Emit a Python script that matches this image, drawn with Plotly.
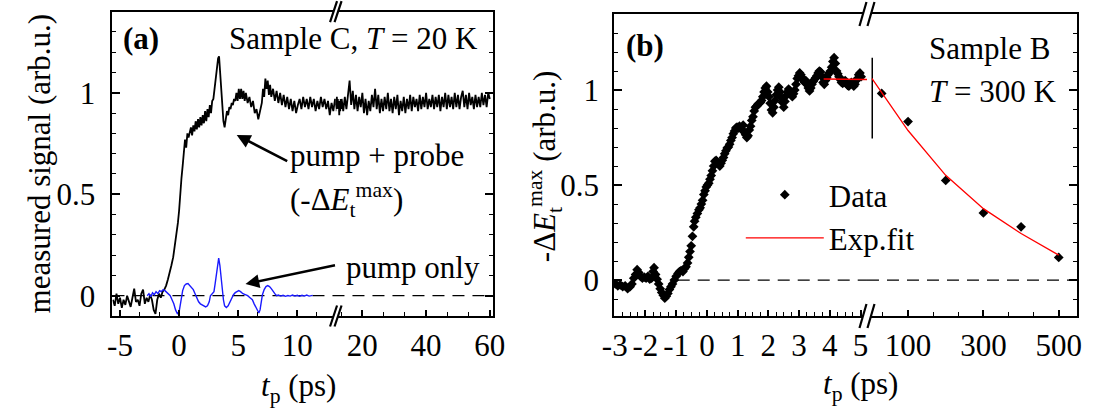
import plotly.graph_objects as go

W, H = 1103, 408
FONT = "Liberation Serif, Times New Roman, serif"
FS = 31

# ---------------- data: panel (a) ----------------
a_probe_t = [
    -5.6, -5.45, -5.3, -5.15, -5.0, -4.85, -4.7, -4.55, -4.4, -4.25,
    -4.1, -3.95, -3.8, -3.65, -3.5, -3.35, -3.2, -3.05, -2.9, -2.75,
    -2.6, -2.45, -2.3, -2.15, -2.0, -1.85, -1.7, -1.55, -1.4, -1.25,
    -1.1, -0.95, -0.8, -0.65, -0.5, -0.4, -0.3, -0.2, -0.1, 0.0,
    0.05, 0.1, 0.15, 0.2, 0.3, 0.4, 0.5, 0.6, 0.7, 0.8,
    0.9, 1.0, 1.1, 1.2, 1.3, 1.4, 1.5, 1.6, 1.7, 1.8,
    1.9, 2.0, 2.1, 2.2, 2.3, 2.4, 2.5, 2.6, 2.7, 2.8,
    2.9, 3.0, 3.1, 3.2, 3.3, 3.38, 3.45, 3.55, 3.65, 3.75,
    3.85, 3.95, 4.05, 4.15, 4.25, 4.35, 4.45, 4.55, 4.65, 4.75,
    4.85, 4.95, 5.05, 5.15, 5.25, 5.35, 5.45, 5.55, 5.65, 5.8,
    5.95, 6.1, 6.25, 6.4, 6.55, 6.7, 6.85, 7.0, 7.1, 7.2,
    7.3, 7.4, 7.5, 7.6, 7.7, 7.8, 7.95, 8.1, 8.25, 8.4,
    8.55, 8.7, 8.85, 9.0, 9.15, 9.3, 9.45, 9.6, 9.75, 9.9,
    10.05, 10.2, 10.35, 10.5, 10.65, 10.8, 10.95, 11.1, 11.25, 11.4,
    11.55, 11.7, 11.85, 12.0, 12.15, 12.3, 12.45, 12.6, 12.75, 12.9,
    13.05, 13.2, 13.35, 13.5, 14.0, 14.5, 15.0, 15.5, 16.0, 16.5,
    17.0, 17.5, 18.0, 18.5, 19.0, 19.5, 20.0, 20.5, 21.0, 21.5,
    22.0, 22.5, 23.0, 23.5, 24.0, 24.5, 25.0, 25.5, 26.0, 26.5,
    27.0, 27.5, 28.0, 28.5, 29.0, 29.5, 30.0, 30.5, 31.0, 31.5,
    32.0, 32.5, 33.0, 33.5, 34.0, 34.5, 35.0, 35.5, 36.0, 36.5,
    37.0, 37.5, 38.0, 38.5, 39.0, 39.5, 40.0, 40.5, 41.0, 41.5,
    42.0, 42.5, 43.0, 43.5, 44.0, 44.5, 45.0, 45.5, 46.0, 46.5,
    47.0, 47.5, 48.0, 48.5, 49.0, 49.5, 50.0, 50.5, 51.0, 51.5,
    52.0, 52.5, 53.0, 53.5, 54.0, 54.5, 55.0, 55.5, 56.0, 56.5,
    57.0, 57.5, 58.0, 58.5, 59.0, 59.5, 60.0,
]
a_probe_y = [
    -0.02, -0.05, 0.01, -0.04, -0.01, -0.06, -0.02, -0.045, 0.0, -0.03,
    -0.055, -0.01, 0.035, -0.03, -0.02, -0.05, 0.01, 0.03, -0.04, -0.01,
    -0.03, 0.005, -0.02, -0.07, -0.09, -0.02, 0.01, -0.01, 0.02, 0.03,
    0.05, 0.08, 0.11, 0.15, 0.19, 0.23, 0.27, 0.31, 0.36, 0.42,
    0.47, 0.52, 0.55, 0.58, 0.64, 0.71, 0.77, 0.73, 0.8, 0.78,
    0.8, 0.83, 0.79, 0.84, 0.81, 0.86, 0.82, 0.87, 0.83, 0.88,
    0.84, 0.89, 0.85, 0.91, 0.86, 0.92, 0.88, 0.94, 0.9, 0.96,
    0.97, 1.02, 1.08, 1.13, 1.17, 1.18, 1.12, 1.05, 0.95, 0.86,
    0.83, 0.88, 0.91, 0.89, 0.93, 0.92, 0.95, 0.94, 0.97, 0.96,
    1.0, 0.96, 1.02, 0.97, 1.02, 0.97, 1.01, 0.96, 1.0, 0.95,
    0.98, 0.93, 0.96, 0.9, 0.92, 0.87, 0.92, 0.95, 1.02, 0.98,
    1.07, 1.02, 1.06, 0.99, 1.04, 0.98, 1.02, 0.96, 1.01, 0.95,
    1.0, 0.94, 0.99, 0.93, 0.98, 0.92, 0.97, 0.91, 0.96, 0.9,
    0.94, 0.97, 0.92, 0.98, 0.93, 0.97, 0.92, 0.98, 0.93, 0.97,
    0.91, 0.96, 0.92, 0.98, 0.93, 0.97, 0.92, 0.96, 0.89, 0.95,
    0.91, 0.97, 0.92, 0.97, 0.91, 0.98, 0.92, 1.0, 1.06, 0.94,
    1.01, 0.92, 0.99, 0.91, 0.98, 0.93, 1.0, 0.9, 0.97, 0.89,
    0.96, 0.91, 0.99, 0.93, 1.02, 0.92, 0.99, 0.9, 0.97, 0.91,
    0.98, 0.92, 1.0, 0.91, 0.97, 0.9, 0.98, 0.92, 0.99, 0.89,
    0.96, 0.91, 0.98, 0.9, 0.97, 0.92, 0.99, 0.91, 0.98, 0.93,
    0.97, 0.91, 0.99, 0.92, 0.98, 0.93, 1.0, 0.92, 0.97, 0.93,
    0.99, 0.92, 0.98, 0.93, 0.99, 0.91, 0.98, 0.93, 1.0, 0.92,
    0.99, 0.93, 0.98, 0.92, 1.0, 0.93, 0.99, 0.92, 0.98, 1.01,
    0.93, 0.99, 0.92, 1.0, 0.94, 0.98, 0.92, 0.99, 0.93, 0.98,
    0.93, 1.0, 0.94, 0.99, 0.93, 1.0, 0.97,
]
a_pump_t = [
    -2.7, -2.55, -2.4, -2.25, -2.1, -1.95, -1.8, -1.65, -1.5, -1.35,
    -1.2, -1.05, -0.9, -0.75, -0.6, -0.45, -0.3, -0.15, 0.0, 0.1,
    0.2, 0.3, 0.45, 0.6, 0.75, 0.9, 1.05, 1.2, 1.35, 1.5,
    1.65, 1.8, 1.95, 2.1, 2.25, 2.4, 2.55, 2.65, 2.8, 2.95,
    3.05, 3.15, 3.25, 3.35, 3.45, 3.55, 3.65, 3.75, 3.85, 4.0,
    4.15, 4.3, 4.45, 4.6, 4.75, 4.9, 5.05, 5.2, 5.4, 5.6,
    5.8, 6.0, 6.2, 6.35, 6.5, 6.65, 6.75, 6.85, 6.95, 7.05,
    7.2, 7.35, 7.5, 7.65, 7.8, 7.95, 8.1, 8.25, 8.4, 8.6,
    8.8, 9.0, 9.2, 9.4, 9.6, 9.8, 10.0, 10.2, 10.4, 10.6,
    10.8, 11.0, 11.3,
]
a_pump_y = [
    0.0, 0.01, -0.005, 0.015, 0.005, 0.02, 0.01, 0.025, 0.02, 0.03,
    0.025, 0.015, 0.01, 0.0, -0.02, -0.04, -0.07, -0.088, -0.08, -0.05,
    -0.01, 0.025, 0.05, 0.058, 0.06, 0.05, 0.045, 0.03, 0.01, -0.01,
    -0.03, -0.04, -0.045, -0.05, -0.055, -0.05, -0.03, 0.0, 0.01, 0.02,
    0.06, 0.11, 0.16, 0.185, 0.15, 0.09, 0.03, -0.02, -0.05, -0.058,
    -0.05, -0.03, -0.01, 0.005, 0.015, 0.02, 0.025, 0.02, 0.01, 0.005,
    0.0, -0.01, -0.02, -0.04, -0.06, -0.08, -0.085, -0.07, -0.03, 0.005,
    0.03, 0.045, 0.05, 0.045, 0.035, 0.02, 0.01, 0.0, 0.003, -0.002,
    0.002, -0.003, 0.001, -0.002, 0.003, -0.002, 0.002, -0.003, 0.002, -0.002,
    0.003, -0.002, 0.002,
]

# ---------------- data: panel (b) ----------------
b_fast_t = [
    -2.98, -2.9, -2.82, -2.74, -2.66, -2.58, -2.5, -2.44, -2.38, -2.32,
    -2.27, -2.22, -2.16, -2.1, -2.04, -1.98, -1.92, -1.86, -1.8, -1.75,
    -1.72, -1.67, -1.62, -1.57, -1.52, -1.47, -1.42, -1.37, -1.32, -1.27,
    -1.22, -1.17, -1.12, -1.06, -1.0, -0.94, -0.89, -0.84, -0.78, -0.73,
    -0.68, -0.63, -0.59, -0.55, -0.51, -0.47, -0.43, -0.4, -0.36, -0.31,
    -0.26, -0.22, -0.18, -0.14, -0.1, -0.06, -0.02, 0.02, 0.06, 0.1,
    0.14, 0.18, 0.22, 0.26, 0.3, 0.34, 0.38, 0.42, 0.46, 0.5,
    0.54, 0.58, 0.62, 0.66, 0.7, 0.74, 0.78, 0.82, 0.86, 0.9,
    0.94, 0.98, 1.02, 1.06, 1.1, 1.14, 1.18, 1.22, 1.26, 1.3,
    1.34, 1.38, 1.42, 1.46, 1.5, 1.54, 1.58, 1.62, 1.66, 1.7,
    1.74, 1.78, 1.82, 1.86, 1.9, 1.94, 1.98, 2.02, 2.06, 2.1,
    2.14, 2.18, 2.22, 2.26, 2.3, 2.34, 2.38, 2.42, 2.46, 2.5,
    2.54, 2.58, 2.62, 2.66, 2.7, 2.74, 2.78, 2.82, 2.86, 2.9,
    2.94, 2.98, 3.02, 3.06, 3.1, 3.14, 3.18, 3.22, 3.26, 3.3,
    3.34, 3.38, 3.42, 3.46, 3.5, 3.54, 3.58, 3.62, 3.66, 3.7,
    3.74, 3.78, 3.82, 3.86, 3.9, 3.94, 3.98, 4.02, 4.06, 4.1,
    4.14, 4.18, 4.22, 4.26, 4.3, 4.34, 4.38, 4.42, 4.46, 4.5,
    4.54, 4.58, 4.62, 4.66, 4.7, 4.74, 4.78, 4.82, 4.86, 4.9,
    4.94, 4.98, 5.02,
]
b_fast_y = [
    -0.02, -0.03, -0.025, -0.035, -0.03, -0.045, -0.035, -0.02, 0.01, 0.03,
    0.055, 0.04, 0.02, 0.01, 0.015, 0.01, 0.02, 0.005, 0.01, 0.045,
    0.065, 0.03, 0.005, -0.02, -0.045, -0.065, -0.08, -0.095, -0.085, -0.07,
    -0.05, -0.035, -0.02, 0.0, 0.02, 0.035, 0.045, 0.05, 0.045, 0.06,
    0.07, 0.09, 0.12, 0.15, 0.18, 0.23, 0.28, 0.31, 0.33, 0.35,
    0.37, 0.38, 0.4, 0.42, 0.45, 0.47, 0.49, 0.5, 0.51, 0.53,
    0.55, 0.575, 0.6, 0.625, 0.63, 0.62, 0.61, 0.6, 0.615, 0.63,
    0.645, 0.665, 0.68, 0.695, 0.7, 0.715, 0.735, 0.75, 0.77, 0.785,
    0.8, 0.805, 0.8, 0.81, 0.8, 0.79, 0.815, 0.78, 0.765, 0.75,
    0.76, 0.79, 0.81, 0.84, 0.86, 0.89, 0.91, 0.915, 0.925, 0.93,
    0.935, 0.945, 0.965, 0.99, 1.01, 1.02, 0.99, 0.965, 0.93, 0.895,
    0.88, 0.91, 0.945, 0.975, 1.0, 1.015, 0.99, 0.96, 0.935, 0.91,
    0.94, 0.97, 0.99, 1.005, 0.995, 0.98, 0.965, 0.98, 1.0, 1.03,
    1.06, 1.075, 1.09, 1.08, 1.065, 1.05, 1.04, 1.05, 1.03, 1.01,
    0.995, 1.01, 1.03, 1.045, 1.055, 1.065, 1.075, 1.09, 1.1, 1.095,
    1.07, 1.04, 1.03, 1.05, 1.065, 1.08, 1.09, 1.1, 1.12, 1.15,
    1.17, 1.14, 1.1, 1.085, 1.07, 1.055, 1.04, 1.035, 1.045, 1.05,
    1.04, 1.025, 1.02, 1.03, 1.04, 1.035, 1.02, 1.03, 1.05, 1.06,
    1.08, 1.09, 1.07,
]
b_slow_t = [30, 100, 200, 300, 400, 500]
b_slow_y = [0.982, 0.834, 0.524, 0.353, 0.28, 0.119]
b_fit_t = [3.8, 5, 100, 200, 300, 400, 500]
b_fit_y = [1.058, 1.058, 0.787, 0.551, 0.376, 0.245, 0.131]
b_mark_t = [5.0, 5.0]
b_mark_y = [0.745, 1.17]

# tick labels
a_left_ticks = [-5, 0, 5, 10]
a_left_text = ["-5", "0", "5", "10"]
a_right_ticks = [20, 40, 60]
a_right_text = ["20", "40", "60"]
b_left_ticks = [-3, -2, -1, 0, 1, 2, 3, 4, 5]
b_left_text = ["-3", "-2", "-1", "0", "1", "2", "3", "4", "5"]
b_right_ticks = [100, 300, 500]
b_right_text = ["100", "300", "500"]
y_ticks = [0, 0.5, 1]
y_text = ["0", "0.5", "1"]

assert len(a_probe_t) == len(a_probe_y)
assert len(a_pump_t) == len(a_pump_y)
assert len(b_fast_t) == len(b_fast_y)

# ---------------- layout geometry (pixels) ----------------
def fx(px):
    return px / W

def fy(py):
    return 1 - py / H

A_L, A_B, A_R = 102.7, 331.0, 491.7
B_L, B_B, B_R = 615.5, 874.0, 1088.5
TOP_A, TOP_B, BOT = 11.7, 14.0, 316.0

tickfont = dict(family=FONT, size=FS, color="black")


def xaxis(d0, d1, rng, anchor, tv, tt, mtick0, mdtick, standoff):
    return dict(
        domain=[fx(d0), fx(d1)], range=rng, anchor=anchor,
        tickmode="array", tickvals=tv, ticktext=tt,
        ticks="inside", ticklen=6, tickwidth=1.5, tickcolor="black",
        showline=True, linewidth=2, linecolor="black", mirror=True,
        showgrid=False, zeroline=False, tickfont=tickfont,
        ticklabelstandoff=standoff,
        minor=dict(tickmode="linear", tick0=mtick0, dtick=mdtick, ticks="inside",
                   ticklen=4, tickwidth=1.2, tickcolor="black", showgrid=False),
    )


def yaxis(top, rng, anchor, side, labels, standoff):
    return dict(
        domain=[fy(BOT), fy(top)], range=rng, anchor=anchor, side=side,
        tickmode="array", tickvals=y_ticks, ticktext=y_text,
        ticks="inside", ticklen=8, tickwidth=1.5, tickcolor="black",
        showline=True, linewidth=2, linecolor="black", mirror=False,
        showgrid=False, zeroline=False, showticklabels=labels, tickfont=tickfont,
        ticklabelstandoff=standoff,
        minor=dict(tickmode="linear", tick0=0, dtick=0.1, ticks="inside",
                   ticklen=4, tickwidth=1.2, tickcolor="black", showgrid=False),
    )


a_yrange = [-0.10, 1.40]
b_yrange = [-0.189, 1.40]

fig = go.Figure()

# panel (a)
fig.add_trace(go.Scatter(x=a_probe_t, y=a_probe_y, mode="lines",
                         line=dict(color="black", width=1.8), xaxis="x", yaxis="y", showlegend=False))
fig.add_trace(go.Scatter(x=a_probe_t, y=a_probe_y, mode="lines",
                         line=dict(color="black", width=1.8), xaxis="x2", yaxis="y2", showlegend=False))
fig.add_trace(go.Scatter(x=a_pump_t, y=a_pump_y, mode="lines",
                         line=dict(color="#1a1aff", width=1.4), xaxis="x", yaxis="y", showlegend=False))

# panel (b)
fig.add_trace(go.Scatter(x=b_fast_t, y=b_fast_y, mode="markers", name="Data",
                         marker=dict(symbol="diamond", size=7.5, color="black"),
                         xaxis="x3", yaxis="y3", showlegend=True))
fig.add_trace(go.Scatter(x=b_slow_t, y=b_slow_y, mode="markers",
                         marker=dict(symbol="diamond", size=7.5, color="black"),
                         xaxis="x4", yaxis="y4", showlegend=False))
fig.add_trace(go.Scatter(x=b_mark_t, y=b_mark_y, mode="lines",
                         line=dict(color="black", width=1.5), xaxis="x4", yaxis="y4", showlegend=False))
fig.add_trace(go.Scatter(x=b_fit_t, y=b_fit_y, mode="lines", name="Exp.fit",
                         line=dict(color="#ff0000", width=1.3), xaxis="x3", yaxis="y3", showlegend=True))
fig.add_trace(go.Scatter(x=b_fit_t, y=b_fit_y, mode="lines",
                         line=dict(color="#ff0000", width=1.3), xaxis="x4", yaxis="y4", showlegend=False))


def break_shapes(xref, yref, yanchor, c, hdx, hdy):
    fill = (f"M{-c - hdx},{-hdy} L{-c + hdx},{hdy} L{c + hdx},{hdy} "
            f"L{c - hdx},{-hdy} Z")
    common = dict(type="path", xref=xref, yref=yref, xsizemode="pixel", ysizemode="pixel",
                  xanchor=0, yanchor=yanchor, layer="above")
    return [
        dict(path=fill, fillcolor="white", line=dict(width=0), **common),
        dict(path=f"M{-c - hdx},{-hdy} L{-c + hdx},{hdy}", line=dict(color="black", width=2.2), **common),
        dict(path=f"M{c - hdx},{-hdy} L{c + hdx},{hdy}", line=dict(color="black", width=2.2), **common),
    ]


dash = "12px,8px"
shapes = [
    dict(type="line", xref="paper", x0=fx(A_L), x1=fx(A_R), yref="y", y0=0, y1=0,
         line=dict(color="black", width=1.3, dash=dash), layer="below"),
    dict(type="line", xref="x3", x0=-0.95, x1=5.21, yref="y3", y0=0, y1=0,
         line=dict(color="black", width=1.3, dash=dash), layer="below"),
    dict(type="line", xref="x4 domain", x0=0, x1=1, yref="y4", y0=0, y1=0,
         line=dict(color="black", width=1.3, dash=dash), layer="below"),
]
shapes += break_shapes("x2 domain", "y2 domain", 0, 2.25, 3.5, 10.5)
shapes += break_shapes("x2 domain", "y2 domain", 1, 2.25, 3.5, 10.5)
shapes += break_shapes("x4 domain", "y4 domain", 0, 4.0, 3.5, 12)
shapes += break_shapes("x4 domain", "y4 domain", 1, 4.0, 3.5, 12)

txt = dict(family=FONT, size=FS, color="black")


def ann(text, px, py, xanchor="left", angle=0):
    return dict(text=text, x=fx(px), y=fy(py), xref="paper", yref="paper",
                xanchor=xanchor, yanchor="middle", showarrow=False, font=txt,
                textangle=angle)


annotations = [
    ann("<b>(a)</b>", 111, 38),
    ann("Sample C, <i>T</i> = 20 K", 220, 38),
    ann("pump + probe", 282, 155),
    ann("(-Δ<i>E</i><sub>t</sub><sup>max</sup>)", 282, 200),
    ann("pump only", 339, 267),
    ann("<b>(b)</b>", 626, 45),
    ann("Sample B", 935, 48),
    ann("<i>T</i> = 300 K", 935, 91),
    ann("measured signal (arb.u.)", 28, 163, "center", -90),
    ann("-Δ<i>E</i><sub>t</sub><sup>max</sup> (arb.u.)", 545, 166, "center", -90),
    ann("<i>t</i><sub>p</sub> (ps)", 293, 388, "center"),
    ann("<i>t</i><sub>p</sub> (ps)", 867, 386, "center"),
    dict(text="", x=fx(229.7), y=fy(135), xref="paper", yref="paper", ax=52, ay=27,
         showarrow=True, arrowhead=2, arrowsize=1.1, arrowwidth=2.5, arrowcolor="black"),
    dict(text="", x=fx(238.7), y=fy(284), xref="paper", yref="paper", ax=91, ay=-19,
         showarrow=True, arrowhead=2, arrowsize=1.1, arrowwidth=2.5, arrowcolor="black"),
]

fig.update_layout(
    width=W, height=H, autosize=False,
    margin=dict(l=0, r=0, t=0, b=0),
    paper_bgcolor="white", plot_bgcolor="white",
    font=txt,
    xaxis=xaxis(A_L, A_B, [-5.64, 13.26], "y", a_left_ticks, a_left_text, 0, 5 / 3, 1),
    xaxis2=xaxis(A_B, A_R, [11.67, 61.0], "y2", a_right_ticks, a_right_text, 0, 20 / 3, 1),
    xaxis3=xaxis(B_L, B_B, [-3.02, 5.21], "y3", b_left_ticks, b_left_text, 0, 0.25, 1),
    xaxis4=xaxis(B_B, B_R, [-9.0, 548.0], "y4", b_right_ticks, b_right_text, 100, 200 / 3, 1),
    yaxis=yaxis(TOP_A, a_yrange, "x", "left", True, 9),
    yaxis2=yaxis(TOP_A, a_yrange, "x2", "right", False, 0),
    yaxis3=yaxis(TOP_B, b_yrange, "x3", "left", True, 7),
    yaxis4=yaxis(TOP_B, b_yrange, "x4", "right", False, 0),
    legend=dict(x=fx(745), y=fy(168), xanchor="left", yanchor="top",
                bgcolor="rgba(0,0,0,0)", borderwidth=0, font=txt,
                itemwidth=78, tracegroupgap=0),
    shapes=shapes,
    annotations=annotations,
)

fig.write_html("out.html")
